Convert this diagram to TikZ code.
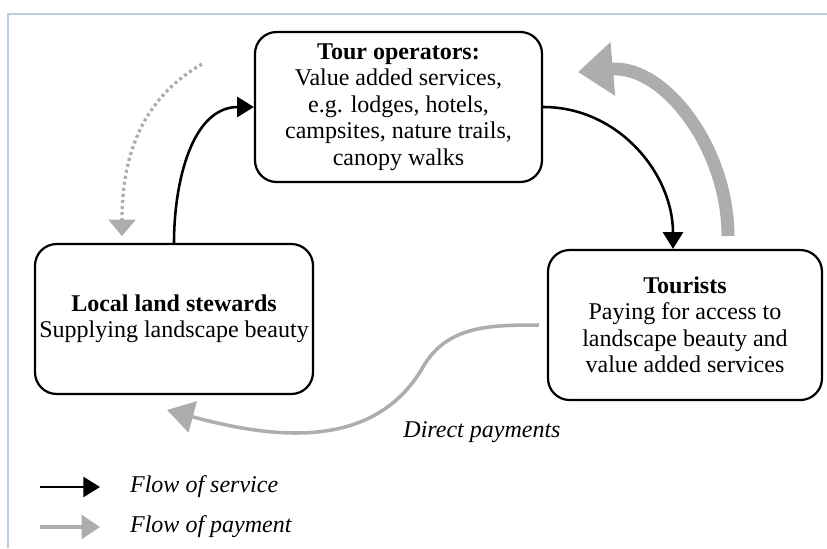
\documentclass[tikz,border=0pt]{standalone}
\usepackage{fontspec}
\setmainfont{Liberation Serif}
\usetikzlibrary{arrows.meta}
\definecolor{paygray}{gray}{0.68}
\definecolor{framecol}{RGB}{190,205,222}

\begin{document}
\begin{tikzpicture}[x=0.03cm,y=-0.03cm,
		actor/.style={draw,line width=1.9pt,rounded corners=0.65cm,minimum width=#1,minimum height=4.5cm,inner sep=1pt,align=center,font=\fontsize{20.5}{22.6}\selectfont},
		service/.style={line width=2.2pt,-{Triangle[length=0.5cm,width=0.6cm]}},
		bigpay/.style={draw=paygray,line width=11pt,-{Triangle[length=1.05cm,width=1.55cm]}},
		dotpay/.style={draw=paygray,line width=2.8pt,dash pattern=on 2.6pt off 2.6pt,-{Triangle[length=0.5cm,width=0.8cm]}},
		linepay/.style={draw=paygray,line width=3pt,-{Triangle[length=0.8cm,width=0.95cm]}},
		legpay/.style={draw=paygray,line width=3.5pt,-{Triangle[length=0.55cm,width=0.7cm]}},
		note/.style={font=\fontsize{20.5}{22.6}\selectfont\itshape}]
		\useasboundingbox (0,0) rectangle (827,548);
		\draw[framecol,line width=1.2pt] (8,548) -- (8,14) -- (827,14);

		\node[actor=8.61cm] (tour) at (398.5,107) {\textbf{Tour operators:}\\Value added services,\\e.g. lodges, hotels,\\campsites, nature trails,\\canopy walks};
		\node[actor=8.34cm] (stew) at (174,319) {\textbf{Local land stewards}\\Supplying landscape beauty};
		\node[actor=8.22cm] (tourist) at (685,325) {\textbf{Tourists}\\Paying for access to\\landscape beauty and\\value added services};

		\draw[service] (stew.north) to[out=90,in=180] (tour.west);
		\draw[service] (tour.east) to[out=0,in=90] ([xshift=-0.36cm]tourist.north);

		\coordinate (back) at (728,236);
		\coordinate (backtip) at (578,72);
		\draw[bigpay] (back) to[out=90,in=5] (backtip);

		\coordinate (dotstart) at (202,64);
		\draw[dotpay] (dotstart) to[out=210,in=90] ([xshift=-1.56cm,yshift=0.2cm]stew.north);

		\coordinate (dip) at (423,367);
		\coordinate (paytip) at (167,410);
		\draw[linepay] ([xshift=-0.24cm]tourist.west) to[out=180,in=60] (dip) to[out=240,in=-15] (paytip);
		\node[note] (direct) at (482,432) {Direct payments};

		\coordinate (s0) at (40,487);
		\coordinate (s1) at (100,487);
		\draw[service] (s0) -- (s1);
		\node[note,anchor=west] (servtxt) at (126,487) {Flow of service};
		\coordinate (p0) at (40,527);
		\coordinate (p1) at (100,527);
		\draw[legpay] (p0) -- (p1);
		\node[note,anchor=west] (paytxt) at (126,527) {Flow of payment};
	\end{tikzpicture}
\end{document}
